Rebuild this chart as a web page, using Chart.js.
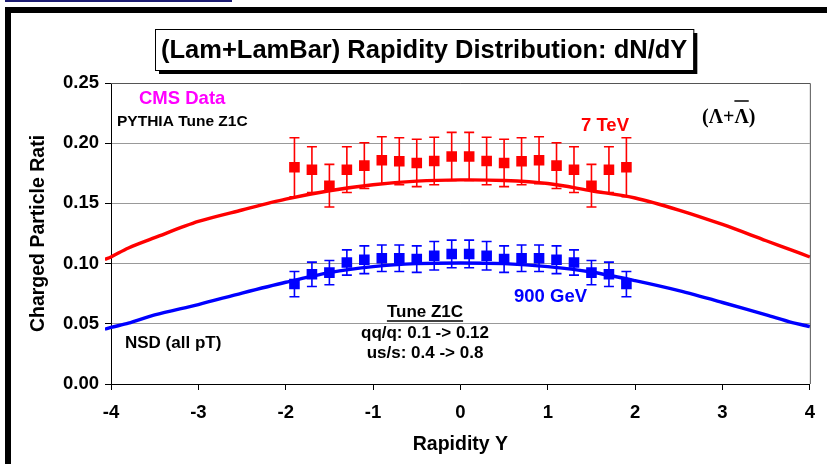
<!DOCTYPE html>
<html>
<head>
<meta charset="utf-8">
<script src="https://cdn.jsdelivr.net/npm/chart.js@4.4.1/dist/chart.umd.min.js"></script>
<style>
  html, body { margin: 0; padding: 0; background: #fff; }
  #wrap { width: 827px; height: 464px; position: relative; }
</style>
</head>
<body>
<div id="wrap"><canvas id="c" width="827" height="464"></canvas></div>
<script>
// ---- data ----
const rapidity = [-1.9, -1.7, -1.5, -1.3, -1.1, -0.9, -0.7, -0.5, -0.3, -0.1, 0.1, 0.3, 0.5, 0.7, 0.9, 1.1, 1.3, 1.5, 1.7, 1.9];
const data7TeV = [0.180, 0.178, 0.1647, 0.178, 0.1814, 0.1858, 0.185, 0.1836, 0.1852, 0.189, 0.189, 0.1852, 0.1836, 0.185, 0.1858, 0.1814, 0.178, 0.1647, 0.178, 0.180];
const err7TeV = [0.0245, 0.019, 0.0177, 0.019, 0.019, 0.0195, 0.0195, 0.0197, 0.0197, 0.020, 0.020, 0.0197, 0.0197, 0.0195, 0.0195, 0.019, 0.019, 0.0177, 0.019, 0.0245];
const data900GeV = [0.083, 0.0911, 0.0925, 0.1009, 0.1032, 0.1045, 0.1045, 0.1037, 0.1065, 0.108, 0.108, 0.1065, 0.1037, 0.1045, 0.1045, 0.1032, 0.1009, 0.0925, 0.0911, 0.083];
const err900GeV = [0.0105, 0.0101, 0.0101, 0.0105, 0.0115, 0.011, 0.011, 0.011, 0.0118, 0.0115, 0.0115, 0.0118, 0.011, 0.011, 0.011, 0.0115, 0.0105, 0.0101, 0.0101, 0.0105];

const curveY = [-4.07, -4.0, -3.8, -3.5, -3.0, -2.5, -2.0, -1.5, -1.0, -0.5, 0.0, 0.5, 1.0, 1.5, 2.0, 2.5, 3.0, 3.5, 3.8, 4.0, 4.07];
const curve7TeV = [0.1035, 0.1055, 0.1130, 0.1215, 0.1350, 0.1445, 0.1535, 0.1605, 0.1655, 0.1685, 0.1695, 0.1690, 0.1665, 0.1605, 0.1545, 0.1445, 0.1325, 0.1190, 0.1110, 0.1055, 0.1035];
const curve900GeV = [0.0455, 0.0470, 0.0505, 0.0574, 0.0660, 0.0755, 0.0845, 0.0925, 0.0975, 0.1000, 0.1005, 0.1000, 0.0975, 0.0930, 0.0858, 0.0775, 0.0677, 0.0574, 0.0510, 0.0477, 0.0455];

const xTicks = [-4, -3, -2, -1, 0, 1, 2, 3, 4];
const yTicks = [0.00, 0.05, 0.10, 0.15, 0.20, 0.25];

const FONT = '"Liberation Sans", Arial, sans-serif';
const RED = '#ff0000';
const BLUE = '#0000ff';

const pts = (xs, ys) => xs.map((x, i) => ({ x: x, y: ys[i] }));

// error bars drawn through the chart scales
const errorBars = {
  id: 'errorBars',
  beforeDatasetsDraw(chart) {
    const ctx = chart.ctx;
    const xs = chart.scales.x, ys = chart.scales.y;
    const sets = [[data7TeV, err7TeV, RED], [data900GeV, err900GeV, BLUE]];
    ctx.save();
    ctx.lineWidth = 1.6;
    sets.forEach(([vals, errs, col]) => {
      ctx.strokeStyle = col;
      vals.forEach((v, i) => {
        const px = xs.getPixelForValue(rapidity[i]);
        const top = ys.getPixelForValue(v + errs[i]);
        const bot = ys.getPixelForValue(v - errs[i]);
        ctx.beginPath();
        ctx.moveTo(px, top); ctx.lineTo(px, bot);
        ctx.moveTo(px - 5, top); ctx.lineTo(px + 5, top);
        ctx.moveTo(px - 5, bot); ctx.lineTo(px + 5, bot);
        ctx.stroke();
      });
    });
    ctx.restore();
  }
};

// background, frame, title box, plot border and annotations
const decor = {
  id: 'decor',
  beforeDraw(chart) {
    const ctx = chart.ctx;
    ctx.save();
    ctx.fillStyle = '#fff';
    ctx.fillRect(0, 0, chart.width, chart.height);
    // navy bar at very top
    ctx.fillStyle = '#1b1b72';
    ctx.fillRect(5, 0, 227, 2);
    // thick black frame
    ctx.fillStyle = '#000';
    ctx.fillRect(5, 7, 6, chart.height - 7);
    ctx.fillRect(5, 7, chart.width - 5, 6);
    ctx.restore();
  },
  afterDraw(chart) {
    const ctx = chart.ctx;
    const a = chart.chartArea;
    ctx.save();
    // top & right plot border
    ctx.strokeStyle = '#555';
    ctx.lineWidth = 1;
    ctx.beginPath();
    ctx.moveTo(a.left, a.top + 0.5); ctx.lineTo(a.right + 0.5, a.top + 0.5);
    ctx.lineTo(a.right + 0.5, a.bottom);
    ctx.stroke();

    // title box with shadow
    const title = '(Lam+LamBar) Rapidity Distribution: dN/dY';
    ctx.font = 'bold 25.5px ' + FONT;
    const tw = ctx.measureText(title).width;
    const bx = 155, by = 29, bw = tw + 12, bh = 41;
    ctx.fillStyle = '#000';
    ctx.fillRect(bx + 4, by + 4, bw, bh);
    ctx.fillStyle = '#fff';
    ctx.fillRect(bx, by, bw, bh);
    ctx.strokeStyle = '#000';
    ctx.lineWidth = 1;
    ctx.strokeRect(bx + 0.5, by + 0.5, bw, bh);
    ctx.fillStyle = '#000';
    ctx.textBaseline = 'middle';
    ctx.textAlign = 'left';
    ctx.fillText(title, bx + 6, by + bh / 2 + 1);

    // annotations
    const txt = (s, x, y, size, col, align, family) => {
      ctx.font = 'bold ' + size + 'px ' + (family || FONT);
      ctx.fillStyle = col;
      ctx.textAlign = align || 'left';
      ctx.textBaseline = 'middle';
      ctx.fillText(s, x, y);
      return ctx.measureText(s).width;
    };
    txt('CMS Data', 139, 99, 18.5, '#ff00ff');
    txt('PYTHIA Tune Z1C', 117, 122, 15.5, '#000');
    txt('7 TeV', 581, 126, 18.5, RED);
    txt('900 GeV', 514, 297, 18.5, BLUE);
    txt('NSD (all pT)', 125, 343, 17, '#000');
    const tz = txt('Tune Z1C', 425, 312, 17, '#000', 'center');
    ctx.strokeStyle = '#000';
    ctx.lineWidth = 1.5;
    ctx.beginPath();
    ctx.moveTo(425 - tz / 2, 321); ctx.lineTo(425 + tz / 2, 321);
    ctx.stroke();
    txt('qq/q: 0.1 -> 0.12', 425, 333, 17, '#000', 'center');
    txt('us/s: 0.4 -> 0.8', 425, 353, 17, '#000', 'center');

    // (Λ + anti-Λ) symbol
    ctx.font = 'bold 20px "Liberation Serif", "DejaVu Serif", serif';
    ctx.fillStyle = '#000';
    ctx.textAlign = 'left';
    ctx.textBaseline = 'middle';
    const s1 = '(Λ+';
    const w1 = ctx.measureText(s1).width;
    const wL = ctx.measureText('Λ').width;
    ctx.fillText('(Λ+Λ)', 702, 118);
    ctx.lineWidth = 1.5;
    ctx.beginPath();
    ctx.moveTo(702 + w1, 101); ctx.lineTo(702 + w1 + wL, 101);
    ctx.stroke();
    ctx.restore();
  }
};

const tickFont = { family: FONT, size: 18.5, weight: 'bold' };
const titleFont = { family: FONT, size: 19.5, weight: 'bold' };

new Chart(document.getElementById('c'), {
  type: 'scatter',
  data: {
    datasets: [
      { label: '7 TeV data', data: pts(rapidity, data7TeV), pointStyle: 'rect', pointRadius: 7.5, pointBackgroundColor: RED, pointBorderColor: RED, borderWidth: 0, showLine: false },
      { label: '900 GeV data', data: pts(rapidity, data900GeV), pointStyle: 'rect', pointRadius: 7.5, pointBackgroundColor: BLUE, pointBorderColor: BLUE, borderWidth: 0, showLine: false },
      { label: 'PYTHIA 7 TeV', data: pts(curveY, curve7TeV), showLine: true, borderColor: RED, borderWidth: 3.4, pointRadius: 0, tension: 0.3, clip: { left: 6, right: 6, top: false, bottom: false } },
      { label: 'PYTHIA 900 GeV', data: pts(curveY, curve900GeV), showLine: true, borderColor: BLUE, borderWidth: 3.4, pointRadius: 0, tension: 0.3, clip: { left: 6, right: 6, top: false, bottom: false } }
    ]
  },
  options: {
    responsive: false,
    animation: false,
    events: [],
    layout: { padding: { left: 0, right: 16, top: 83, bottom: 0 } },
    plugins: { legend: { display: false }, tooltip: { enabled: false } },
    scales: {
      x: {
        type: 'linear', min: -4, max: 4,
        afterFit: s => { s.height = 80; },
        afterBuildTicks: s => { s.ticks = xTicks.map(v => ({ value: v })); },
        ticks: { font: tickFont, color: '#000', padding: 12, maxRotation: 0, callback: v => String(v) },
        grid: { drawOnChartArea: false, drawTicks: true, tickLength: 6, color: '#000', tickColor: '#000' },
        border: { display: true, color: '#000', width: 1 },
        title: { display: true, text: 'Rapidity Y', font: titleFont, color: '#000', padding: { top: 0, bottom: 8 } }
      },
      y: {
        type: 'linear', min: 0, max: 0.25,
        afterFit: s => { s.width = 111; },
        afterBuildTicks: s => { s.ticks = yTicks.map(v => ({ value: v })); },
        ticks: { font: tickFont, color: '#000', padding: 6, callback: v => v.toFixed(2) },
        grid: { drawOnChartArea: true, drawTicks: true, tickLength: 6, color: '#999', tickColor: '#000', lineWidth: 1 },
        border: { display: true, color: '#000', width: 1 },
        title: { display: true, text: 'Charged Particle Rati', font: titleFont, color: '#000', padding: { top: 27, bottom: 0 } }
      }
    }
  },
  plugins: [decor, errorBars]
});
</script>
</body>
</html>
